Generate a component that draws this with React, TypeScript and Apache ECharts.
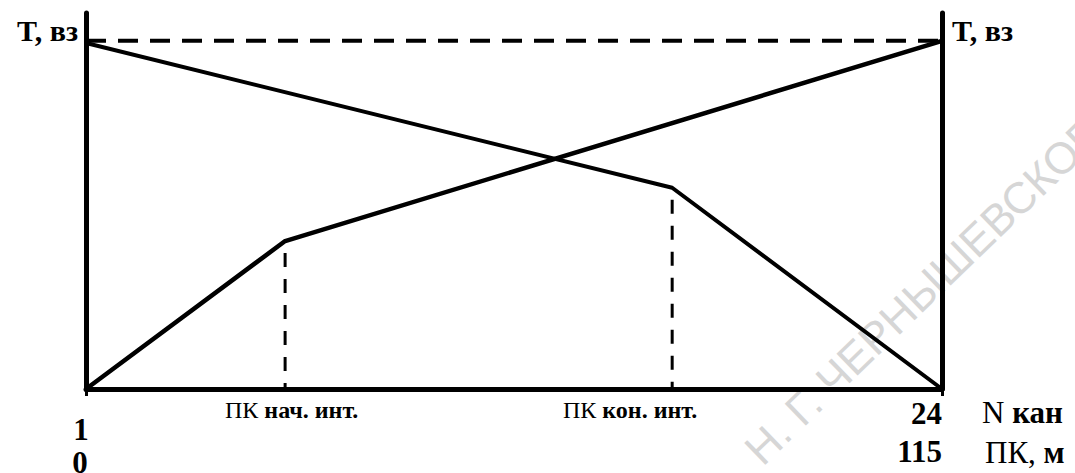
import React, { useEffect, useRef } from "react";
import * as echarts from "echarts";

// Channel numbers (N кан) and relative time values (T, вз)
const risingX = [1, 6.35, 24];
const risingT = [0, 0.425, 1];
const fallingX = [1, 16.75, 24];
const fallingT = [0.994, 0.578, 0];
const levelX = [1, 24];
const levelT = [1, 1];
const intervalStartX = 6.35;
const intervalStartT = 0.425;
const intervalEndX = 16.75;
const intervalEndT = 0.578;

const channelTicks = [1, 24];
const pkTicks = [0, 115];
const channelMin = 1;
const channelMax = 24;
const pkMin = 0;
const pkMax = 115;
const tMin = 0;
const tMax = 1.08;

const yName = "T, вз";
const watermark = "Н. Г. ЧЕРНЫШЕВСКОГО";

const SERIF = '"Liberation Serif", "Times New Roman", serif';

function pairs(xs: number[], ys: number[]) {
  return xs.map((x, i) => [x, ys[i]]);
}

export default function App() {
  const ref = useRef<HTMLDivElement>(null);
  useEffect(() => {
    if (!ref.current) return;
    const chart = echarts.init(ref.current, null, { renderer: "svg" });
    const lineBase = { type: "line", symbol: "none", xAxisIndex: 0, yAxisIndex: 0, silent: true };
    const nameRich = {
      r: { fontFamily: SERIF, fontSize: 31, fill: "#000" },
      b: { fontFamily: SERIF, fontWeight: "bold", fontSize: 31, fill: "#000" },
    };
    const smallRich = {
      a: { fontFamily: SERIF, fontSize: 24, fill: "#000" },
      b: { fontFamily: SERIF, fontWeight: "bold", fontSize: 24, fill: "#000" },
    };
    chart.setOption({
      animation: false,
      backgroundColor: "#ffffff",
      grid: { left: 86, right: 133, top: 13, bottom: 84, containLabel: false, outerBoundsMode: "none" },
      xAxis: [
        {
          type: "value",
          min: channelMin,
          max: channelMax,
          position: "bottom",
          splitLine: { show: false },
          axisLine: { show: true, lineStyle: { color: "#000", width: 5 } },
          axisTick: { show: true, customValues: channelTicks, length: 7, lineStyle: { color: "#000", width: 3 } },
          axisLabel: {
            customValues: channelTicks,
            margin: 8,
            alignMinLabel: "center",
            alignMaxLabel: "right",
            formatter: (v: number) => (v === channelMin ? `{a|${v}}` : `{b|${v}}`),
            rich: {
              a: { fontFamily: SERIF, fontWeight: "bold", fontSize: 31, lineHeight: 32, color: "#000", padding: [32, 10, 0, 0] },
              b: { fontFamily: SERIF, fontWeight: "bold", fontSize: 31, lineHeight: 32, color: "#000" },
            },
          },
        },
        {
          type: "value",
          min: pkMin,
          max: pkMax,
          position: "bottom",
          offset: 30,
          splitLine: { show: false },
          axisLine: { show: false },
          axisTick: { show: false },
          axisLabel: {
            customValues: pkTicks,
            margin: 16,
            alignMinLabel: "center",
            alignMaxLabel: "right",
            formatter: (v: number) => (v === pkMin ? `{a|${v}}` : `{b|${v}}`),
            rich: {
              a: { fontFamily: SERIF, fontWeight: "bold", fontSize: 31, lineHeight: 32, color: "#000", padding: [22, 12, 0, 0] },
              b: { fontFamily: SERIF, fontWeight: "bold", fontSize: 31, lineHeight: 32, color: "#000" },
            },
          },
        },
      ],
      yAxis: [
        {
          type: "value",
          min: tMin,
          max: tMax,
          position: "left",
          splitLine: { show: false },
          axisTick: { show: false },
          axisLabel: { show: false },
          axisLine: { show: true, lineStyle: { color: "#000", width: 5 } },
          name: yName,
          nameLocation: "end",
          nameGap: -17,
          nameTextStyle: {
            fontFamily: SERIF,
            fontWeight: "bold",
            fontSize: 30,
            color: "#000",
            align: "right",
            verticalAlign: "middle",
            padding: [0, 8, 0, 0],
          },
        },
        {
          type: "value",
          min: tMin,
          max: tMax,
          position: "right",
          splitLine: { show: false },
          axisTick: { show: false },
          axisLabel: { show: false },
          axisLine: { show: true, lineStyle: { color: "#000", width: 5 } },
          name: yName,
          nameLocation: "end",
          nameGap: -17,
          nameTextStyle: {
            fontFamily: SERIF,
            fontWeight: "bold",
            fontSize: 30,
            color: "#000",
            align: "left",
            verticalAlign: "middle",
            padding: [0, 0, 0, 10],
          },
        },
      ],
      graphic: [
        {
          type: "text",
          z: 0,
          x: 752,
          y: 456,
          rotation: (44 * Math.PI) / 180,
          silent: true,
          style: {
            text: watermark,
            fill: "#d6d6d6",
            font: '44px "Liberation Sans", Arial, sans-serif',
            textAlign: "left",
            textVerticalAlign: "middle",
          },
        },
        {
          type: "text",
          z: 10,
          x: 225,
          y: 410,
          silent: true,
          style: { text: `{a|ПК}{b| нач. инт.}`, textVerticalAlign: "middle", rich: smallRich },
        },
        {
          type: "text",
          z: 10,
          x: 563,
          y: 410,
          silent: true,
          style: { text: `{a|ПК}{b| кон. инт.}`, textVerticalAlign: "middle", rich: smallRich },
        },
        {
          type: "text",
          z: 10,
          x: 982,
          y: 412,
          silent: true,
          style: { text: `{r|N}{b| кан}`, textVerticalAlign: "middle", rich: nameRich },
        },
        {
          type: "text",
          z: 10,
          x: 985,
          y: 452,
          silent: true,
          style: { text: `{r|ПК,}{b| м}`, textVerticalAlign: "middle", rich: nameRich },
        },
      ],
      series: [
        { ...lineBase, name: "level", data: pairs(levelX, levelT), lineStyle: { color: "#000", width: 4, type: [20, 12], dashOffset: 0 } },
        { ...lineBase, name: "rising", data: pairs(risingX, risingT), lineStyle: { color: "#000", width: 4.5 } },
        { ...lineBase, name: "falling", data: pairs(fallingX, fallingT), lineStyle: { color: "#000", width: 4 } },
        {
          ...lineBase,
          name: "startMark",
          data: [[intervalStartX, intervalStartT], [intervalStartX, 0]],
          lineStyle: { color: "#000", width: 3, type: [14, 12], dashOffset: 14 },
        },
        {
          ...lineBase,
          name: "endMark",
          data: [[intervalEndX, intervalEndT], [intervalEndX, 0]],
          lineStyle: { color: "#000", width: 3, type: [14, 12], dashOffset: 14 },
        },
      ],
    });
    return () => chart.dispose();
  }, []);
  return <div ref={ref} style={{ position: "absolute", left: 0, top: 0, width: 1075, height: 473 }} />;
}
